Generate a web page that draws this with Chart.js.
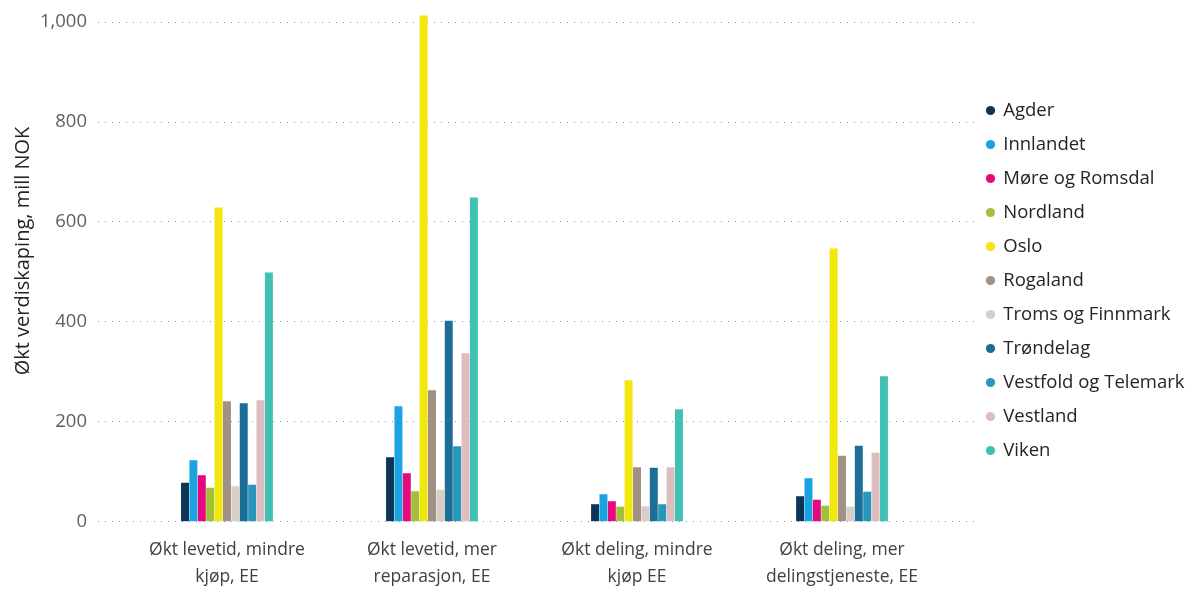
<!DOCTYPE html>
<html>
<head>
<meta charset="utf-8">
<script src="https://cdn.jsdelivr.net/npm/chart.js@4.4.0/dist/chart.umd.min.js"></script>
<style>
  html, body { margin: 0; padding: 0; background: #fff; }
  #chart { display: block; }
</style>
</head>
<body>
<canvas id="chart" width="1195" height="589"></canvas>
<script>
const categories = [
  ['Økt levetid, mindre', 'kjøp, EE'],
  ['Økt levetid, mer', 'reparasjon, EE'],
  ['Økt deling, mindre', 'kjøp EE'],
  ['Økt deling, mer', 'delingstjeneste, EE']
];

const regions = ['Agder', 'Innlandet', 'Møre og Romsdal', 'Nordland', 'Oslo', 'Rogaland',
  'Troms og Finnmark', 'Trøndelag', 'Vestfold og Telemark', 'Vestland', 'Viken'];

const agder = [78, 129, 35, 51];
const innlandet = [123, 231, 55, 87];
const moreRomsdal = [93, 97, 41, 44];
const nordland = [68, 61, 30, 32];
const oslo = [629, 1013, 283, 547];
const rogaland = [241, 263, 109, 132];
const tromsFinnmark = [71, 64, 31, 30];
const trondelag = [237, 402, 108, 152];
const vestfoldTelemark = [74, 151, 35, 60];
const vestland = [243, 337, 109, 138];
const viken = [499, 649, 225, 291];

const series = [agder, innlandet, moreRomsdal, nordland, oslo, rogaland,
  tromsFinnmark, trondelag, vestfoldTelemark, vestland, viken];

const colors = ['#0D3558', '#1AA3E0', '#E5087F', '#A3C03D', '#F1E70C', '#A09184',
  '#D8CEC6', '#1D6E97', '#2996BB', '#DDBDBE', '#40C1B4'];

const yTicks = [0, 200, 400, 600, 800, 1000];
const yTitle = 'Økt verdiskaping, mill NOK';

const FONT = "'Segoe UI', 'Open Sans', sans-serif";
Chart.defaults.font.family = FONT;

// y title drawn by hand so it can sit where the original has it,
// legend nudged into the gap next to the plot
const titlePlugin = {
  id: 'ytitle',
  afterLayout(chart) {
    const lg = chart.legend;
    const dx = 971.5 - lg.left;
    lg.left += dx;
    lg.right += dx;
    lg.top -= 25;
    lg.bottom -= 25;
  },
  afterDraw(chart) {
    const ctx = chart.ctx;
    ctx.save();
    ctx.translate(23, 251);
    ctx.rotate(-Math.PI / 2);
    ctx.textAlign = 'center';
    ctx.textBaseline = 'middle';
    ctx.font = '20px ' + FONT;
    ctx.fillStyle = '#252423';
    ctx.fillText(yTitle, 0, 0);
    ctx.restore();
  }
};

const datasets = regions.map((r, i) => ({
  label: r,
  data: series[i].map((v, j) => ({ x: j, y: v })),
  backgroundColor: colors[i],
  borderWidth: 0,
  categoryPercentage: 0.45,
  barPercentage: 0.95,
  clip: false
}));

new Chart(document.getElementById('chart').getContext('2d'), {
  type: 'bar',
  data: { datasets: datasets },
  options: {
    responsive: false,
    animation: false,
    layout: { padding: { left: 38, top: 22, right: 0, bottom: 0 } },
    plugins: {
      tooltip: { enabled: false },
      legend: {
        position: 'right',
        maxWidth: 215,
        labels: {
          usePointStyle: true,
          pointStyle: 'circle',
          boxWidth: 7,
          boxHeight: 6.5,
          padding: 15.5,
          color: '#252423',
          font: { size: 18.5 }
        }
      }
    },
    scales: {
      x: {
        type: 'linear',
        min: -0.629,
        max: 3.673,
        offset: false,
        afterFit: s => { s.height = 67.3; },
        grid: { display: false, drawTicks: false },
        border: { display: false },
        afterBuildTicks: s => { s.ticks = categories.map((c, i) => ({ value: i })); },
        ticks: {
          autoSkip: false,
          maxRotation: 0,
          padding: 15,
          color: '#404040',
          font: { size: 17.5, lineHeight: 1.55 },
          callback: v => categories[v]
        }
      },
      y: {
        min: 0,
        max: 1000,
        afterFit: s => { s.width = 60; },
        afterBuildTicks: s => { s.ticks = yTicks.map(v => ({ value: v })); },
        grid: { color: '#6F9FC2', lineWidth: 1, drawTicks: false },
        border: { display: false, dash: [1, 6] },
        ticks: {
          padding: 11,
          color: '#605E5C',
          font: { size: 18.5 },
          callback: v => v.toLocaleString('en-US')
        }
      }
    }
  },
  plugins: [titlePlugin]
});
</script>
</body>
</html>
